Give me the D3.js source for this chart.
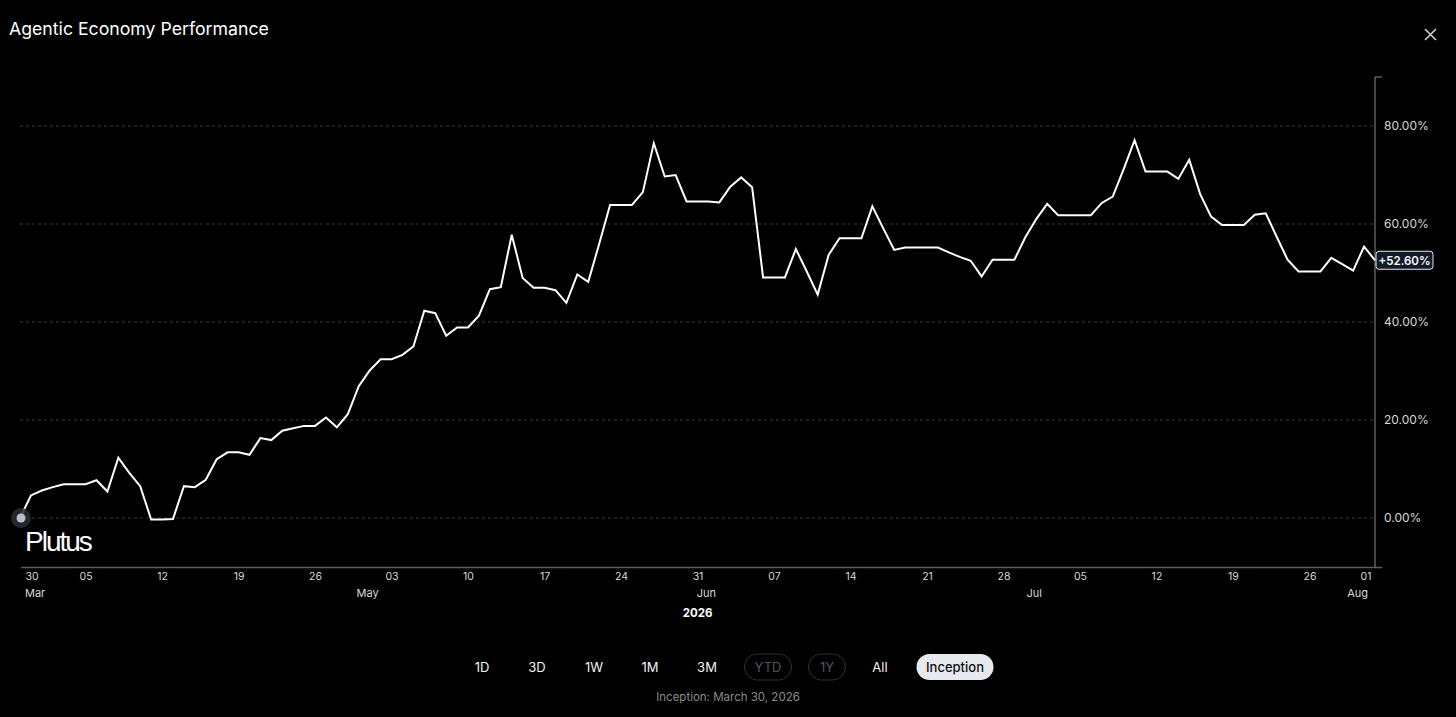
<!DOCTYPE html>
<html>
<head>
<meta charset="utf-8">
<script src="https://cdn.jsdelivr.net/npm/d3@7"></script>
<style>
  html, body { margin: 0; padding: 0; background: #000; }
  svg { display: block; font-family: Inter, "Noto Sans", sans-serif; }
</style>
</head>
<body>
<svg id="chart" width="1456" height="717"></svg>
<script>
// daily performance since inception, in %
var startDate = "2026-03-30";
var endDate = "2026-08-01";
var perf = [
  0.0, 4.6, 5.6, 6.3, 6.9, 6.9, 6.9, 7.7, 5.4, 12.3,
  9.2, 6.5, -0.3, -0.3, -0.2, 6.5, 6.3, 7.8, 12.0, 13.4,
  13.4, 12.9, 16.3, 15.9, 17.8, 18.3, 18.8, 18.8, 20.5, 18.5,
  21.2, 26.9, 30.1, 32.4, 32.4, 33.3, 35.0, 42.3, 41.8, 37.2,
  38.9, 38.9, 41.3, 46.7, 47.1, 57.8, 49.0, 47.0, 47.0, 46.5,
  43.9, 49.7, 48.2, 55.9, 63.9, 63.9, 63.9, 66.5, 76.5, 69.7,
  70.0, 64.6, 64.6, 64.6, 64.4, 67.6, 69.5, 67.5, 49.1, 49.1,
  49.1, 54.9, 50.3, 45.6, 53.7, 57.1, 57.1, 57.1, 63.6, 59.1,
  54.7, 55.2, 55.2, 55.2, 55.2, 54.2, 53.3, 52.5, 49.3, 52.7,
  52.7, 52.7, 57.3, 61.0, 64.1, 61.8, 61.8, 61.8, 61.8, 64.3,
  65.6, 71.2, 77.1, 70.7, 70.7, 70.7, 69.2, 73.1, 66.1, 61.5,
  59.8, 59.8, 59.8, 61.9, 62.2, 57.4, 52.7, 50.3, 50.3, 50.3,
  53.1, 51.8, 50.5, 55.4, 52.6
];
var lastLabel = "+52.60%";

var yTicks = [0, 20, 40, 60, 80];
var dayTicks = ["2026-03-30", "2026-04-05", "2026-04-12", "2026-04-19", "2026-04-26",
  "2026-05-03", "2026-05-10", "2026-05-17", "2026-05-24", "2026-05-31",
  "2026-06-07", "2026-06-14", "2026-06-21", "2026-06-28", "2026-07-05",
  "2026-07-12", "2026-07-19", "2026-07-26", "2026-08-01"];
var monthTicks = [["2026-03-30", "Mar"], ["2026-05-01", "May"], ["2026-06-01", "Jun"],
  ["2026-07-01", "Jul"], ["2026-08-01", "Aug"]];
var yearLabel = "2026";

var ranges = ["1D", "3D", "1W", "1M", "3M", "YTD", "1Y", "All", "Inception"];
var disabledRanges = ["YTD", "1Y"];
var activeRange = "Inception";
var inceptionNote = "Inception: March 30, 2026";

var svg = d3.select("#chart");
var parse = d3.utcParse("%Y-%m-%d");
var t0 = parse(startDate), t1 = parse(endDate);

var data = perf.map(function(v, i){ return {date: d3.utcDay.offset(t0, i), value: v}; });

// plot box (window.top is read-only, so own names)
var plotL = 20, plotR = 1375, plotT = 77, plotB = 567;

var x = d3.scaleUtc().domain([t0, t1]).range([plotL, plotR]);
var y = d3.scaleLinear().domain([-10, 90]).range([plotB, plotT]);

// title + close
svg.append("text").attr("x", 9).attr("y", 35)
  .attr("fill", "#fff").attr("font-size", 17.7).text("Agentic Economy Performance");
svg.append("path").attr("d", "M1425,29 L1436,40 M1436,29 L1425,40")
  .attr("stroke", "#cfcfcf").attr("stroke-width", 1.6).attr("fill", "none");

// grid
svg.append("g").selectAll("line").data(yTicks).enter().append("line")
  .attr("x1", plotL).attr("x2", plotR)
  .attr("y1", function(d){ return y(d); }).attr("y2", function(d){ return y(d); })
  .attr("stroke", "#3a3a3a").attr("stroke-width", 1).attr("stroke-dasharray", "3,3");

// right axis
var yAxis = svg.append("g").attr("transform", "translate(" + plotR + ",0)")
  .call(d3.axisRight(y).tickValues(yTicks).tickSize(0).tickPadding(9)
    .tickFormat(function(d){ return d3.format(".2f")(d) + "%"; }));
yAxis.select(".domain").remove();
yAxis.selectAll("text").attr("fill", "#d8d8d8").attr("font-size", 12)
  .attr("font-family", "Inter, sans-serif");
svg.append("path").attr("d", "M" + (plotR + 7) + "," + plotT + " H" + plotR + " V" + plotB)
  .attr("stroke", "#8a8a8a").attr("fill", "none").attr("stroke-width", 1);

// bottom axis
var xAxis = svg.append("g").attr("transform", "translate(0," + plotB + ")")
  .call(d3.axisBottom(x).tickValues(dayTicks.map(parse)).tickSize(0).tickPadding(6)
    .tickFormat(d3.utcFormat("%d")));
xAxis.select(".domain").remove();
xAxis.selectAll("text").attr("fill", "#d8d8d8").attr("font-size", 10.5)
  .attr("font-family", "Inter, sans-serif")
  .attr("text-anchor", function(d, i){ return i === 0 ? "start" : (i === dayTicks.length - 1 ? "end" : "middle"); })
  .attr("dx", function(d, i){ return i === 0 ? 5 : (i === dayTicks.length - 1 ? -4 : 0); });
svg.append("line").attr("x1", plotL + 1).attr("x2", plotR + 7)
  .attr("y1", plotB + 0.5).attr("y2", plotB + 0.5)
  .attr("stroke", "#5a5a5a").attr("stroke-width", 1.5);

svg.append("g").selectAll("text").data(monthTicks).enter().append("text")
  .attr("x", function(d, i){ return x(parse(d[0])) + (i === 0 ? 5 : (i === monthTicks.length - 1 ? -7 : -2)); })
  .attr("y", 597)
  .attr("text-anchor", function(d, i){ return i === 0 ? "start" : (i === monthTicks.length - 1 ? "end" : "middle"); })
  .attr("fill", "#d8d8d8").attr("font-size", 11).text(function(d){ return d[1]; });
svg.append("text").attr("x", (plotL + plotR) / 2).attr("y", 617).attr("text-anchor", "middle")
  .attr("fill", "#fff").attr("font-size", 11.5).attr("font-weight", 700).text(yearLabel);

// watermark
svg.append("text").attr("x", 25).attr("y", 551)
  .attr("fill", "#fff").attr("font-size", 28).attr("letter-spacing", -2)
  .attr("font-family", "'Liberation Sans', Arial, sans-serif").text("Plutus");

// line
var line = d3.line().x(function(d){ return x(d.date); }).y(function(d){ return y(d.value); });
svg.append("path").datum(data).attr("d", line)
  .attr("fill", "none").attr("stroke", "#fff").attr("stroke-width", 2)
  .attr("stroke-linejoin", "miter");

// start marker
svg.append("circle").attr("cx", x(data[0].date) + 1).attr("cy", y(data[0].value))
  .attr("r", 10).attr("fill", "#2a2d33").attr("opacity", 0.85);
svg.append("circle").attr("cx", x(data[0].date) + 1).attr("cy", y(data[0].value))
  .attr("r", 4.5).attr("fill", "#b6bfcc");

// last value badge
var last = data[data.length - 1];
var badge = svg.append("g").attr("transform", "translate(" + (plotR + 1) + "," + y(last.value) + ")");
badge.append("rect").attr("x", 0).attr("y", -9).attr("width", 57).attr("height", 18).attr("rx", 3)
  .attr("fill", "#121a2b").attr("stroke", "#e8e8e8").attr("stroke-width", 1);
badge.append("text").attr("x", 28.5).attr("y", 4.5).attr("text-anchor", "middle")
  .attr("fill", "#fff").attr("font-size", 11.5).attr("font-weight", 600).text(lastLabel);

// range buttons
var btnX = [482, 537, 594, 650, 707, 768, 827, 880, 955];
var btnW = [0, 0, 0, 0, 0, 47, 37, 0, 77];
var btns = svg.append("g").selectAll("g").data(ranges).enter().append("g")
  .attr("transform", function(d, i){ return "translate(" + btnX[i] + ",667)"; });
btns.each(function(d, i){
  var g = d3.select(this);
  var off = disabledRanges.indexOf(d) >= 0, on = d === activeRange;
  if (off || on) {
    g.append("rect").attr("x", -btnW[i] / 2).attr("y", -13).attr("width", btnW[i]).attr("height", 26)
      .attr("rx", 13).attr("fill", on ? "#e6e9ee" : "none")
      .attr("stroke", on ? "none" : "#2e3238").attr("stroke-width", 1);
  }
  g.append("text").attr("y", 4.5).attr("text-anchor", "middle").attr("font-size", 13)
    .attr("font-weight", on ? 500 : 400)
    .attr("fill", on ? "#111" : (off ? "#50555c" : "#f2f2f2")).text(d);
});

svg.append("text").attr("x", 728).attr("y", 701).attr("text-anchor", "middle")
  .attr("fill", "#8a8a8a").attr("font-size", 11.5).text(inceptionNote);
</script>
</body>
</html>
